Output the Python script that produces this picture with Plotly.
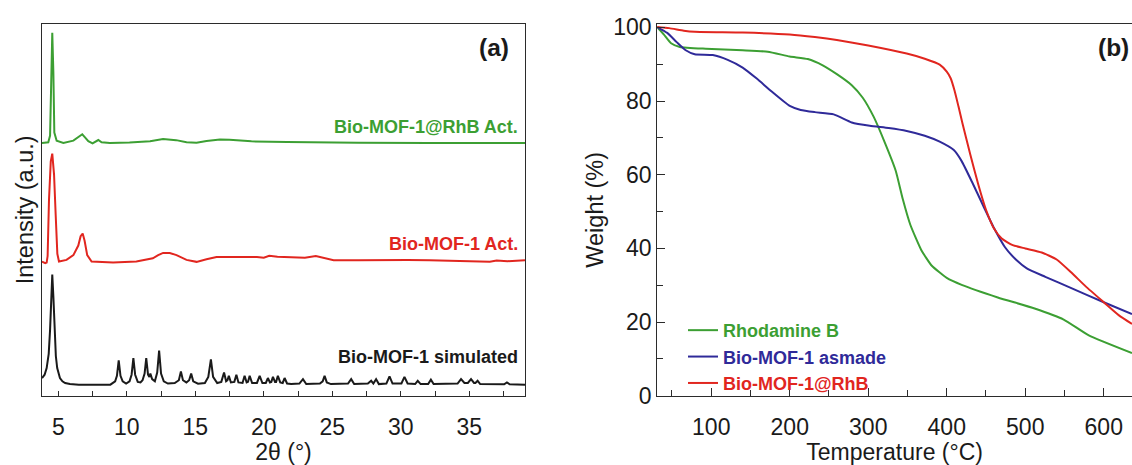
import plotly.graph_objects as go

# ---------------- (a) XRD patterns (normalised intensity, main reflection = 100) ----------------
sim_2theta = [3.81, 4.0, 4.15, 4.3, 4.4, 4.48, 4.56, 4.64, 4.72, 4.82, 4.92, 5.12, 5.3, 5.5, 5.85, 6.5, 8.8,
              8.95, 9.15, 9.28, 9.41, 9.54, 9.7, 9.95, 10.2, 10.35, 10.48, 10.61, 10.8, 11.0,
              11.15, 11.3, 11.42, 11.55, 11.65, 11.72, 11.85, 12.05, 12.22, 12.36, 12.5, 12.7, 13.0,
              13.5, 13.8, 13.95, 14.1, 14.35, 14.55, 14.7, 14.85, 15.2, 15.7, 15.95, 16.14, 16.3, 16.6,
              16.9, 17.1, 17.25, 17.35, 17.45, 17.6, 17.85, 18.0, 18.15, 18.45, 18.6, 18.75, 18.85, 18.97,
              19.15, 19.5, 19.7, 19.9, 20.15, 20.3, 20.45, 20.55, 20.67, 20.82, 20.9, 21.03, 21.2, 21.38,
              21.52, 21.7, 22.0, 22.6, 22.86, 23.1, 24.1, 24.3, 24.44, 24.6, 24.9, 26.15, 26.38, 26.6,
              27.6, 27.84, 28.0, 28.2, 28.4, 28.95, 29.18, 29.4, 30.05, 30.27, 30.5, 31.05, 31.24, 31.45,
              32.0, 32.2, 32.4, 34.15, 34.4, 34.65, 34.9, 35.13, 35.35, 35.45, 35.61, 35.8, 37.55, 37.75,
              37.95, 39.07]
sim_int = [6, 9, 15, 28, 50, 80, 100, 80, 50, 26, 15, 6, 3, 1.5, 0.5, 0, 0,
           1, 3, 8, 22, 8, 3, 1, 3, 9, 24, 9, 2.5, 2,
           4, 10, 24, 9, 7, 10, 5, 3, 11, 31, 10, 3, 1,
           1.5, 4, 12, 4, 2, 4, 10, 3, 0.8, 1.5, 7, 23, 7, 1.5,
           2.5, 11, 3, 4, 8, 2, 2.5, 9, 2, 1.5, 8, 2, 2.5, 8,
           1.5, 1.5, 8, 1.5, 1.5, 6, 2, 2.5, 7, 2.5, 2.5, 8, 2, 1.5,
           6, 1, 0.5, 1, 5, 0.5, 1, 3, 8, 2, 0.5, 1, 5, 0.5,
           1, 3.5, 1, 5, 0.5, 1, 7.5, 1, 1, 7, 1, 0.5, 3.5, 0.5,
           0.5, 4.5, 0.5, 1, 5, 1.5, 1.5, 5, 1.5, 1.5, 3.5, 0.5, 0.3, 2,
           0.3, 0]

act_2theta = [3.81, 4.05, 4.15, 4.22, 4.32, 4.45, 4.56, 4.69, 4.81, 4.93, 5.05, 5.6, 6.1, 6.46, 6.63,
              6.78, 6.92, 7.11, 7.43, 9.0, 10.7, 11.9, 12.29, 12.65, 13.14, 13.63, 14.36, 15.09,
              15.82, 16.55, 17.5, 19.5, 20.0, 20.4, 21.0, 21.7, 23.0, 23.8, 24.3, 25.1, 26.9, 29.5,
              30.0, 30.5, 32.1, 34.7, 36.5, 37.0, 37.8, 39.07]
act_int = [0, -1.5, -1, 5, 56, 91, 98, 79, 42, 7, 0, 1.5, 5.8, 14.5, 23,
           25.4, 18.8, 5.8, 0, -0.9, 0, 2.9, 5.8, 7.8, 7.8, 5.8, 1.5, -0.3,
           2, 4.1, 4.1, 4.2, 3.5, 5.2, 4.3, 4.2, 3.4, 5.0, 3.5, 1.2, 1.2, 1.6,
           2.0, 1.4, 1.2, 0.3, -0.2, 1.0, 0.3, 1.2]

rhb_2theta = [3.81, 4.27, 4.4, 4.49, 4.56, 4.64, 4.71, 4.88, 5.37, 6.1, 6.46, 6.75, 6.95, 7.19, 7.5,
              7.75, 7.92, 8.16, 8.77, 10.2, 11.7, 12.65, 13.6, 14.36, 15.09, 15.82, 16.8, 17.5,
              19.1, 21.7, 24.3, 26.9, 32.1, 39.07]
rhb_int = [0, 0.5, 6.7, 64, 100, 64, 9.3, 2, 0, 2, 5, 7.8, 5, 1.5, -0.5,
           1.5, 2.6, 0.5, 0, 0.3, 1.5, 3.5, 2.5, 0.5, 0.2, 1.7, 3, 2.8,
           1.4, 0.8, 0.3, 0.2, 0, 0]

# ---------------- (b) TGA curves ----------------
rhodamine_T = [31, 39.5, 48.8, 60, 93, 140, 172, 200, 223, 242, 260, 279, 293, 307, 321, 335, 344,
               353.5, 367.5, 381, 400, 419, 465, 512, 549, 581, 636]
rhodamine_W = [100.1, 98.1, 95.7, 94.7, 94.2, 93.8, 93.4, 92.1, 91.4, 89.7, 87.3, 84.3, 80.9, 75.7,
               68.8, 61.1, 53.4, 46.5, 39.6, 35.3, 32.0, 30.1, 26.7, 23.7, 20.7, 16.4, 11.6]

asmade_T = [31, 44, 56, 67.5, 79, 102, 121, 140, 158, 177, 200, 214, 232, 256, 279, 302, 326, 349,
            372, 391, 409, 419, 433, 446.5, 460, 474, 488, 502, 525.6, 558, 600, 636]
asmade_W = [100.1, 98.5, 96.0, 93.8, 92.7, 92.5, 91.2, 89.1, 86.1, 82.6, 78.7, 77.6, 77.0, 76.4,
            74.2, 73.3, 72.7, 71.9, 70.6, 69.0, 66.7, 63.7, 57.7, 51.6, 45.6, 40.4, 37.0, 34.6,
            32.3, 29.3, 25.4, 22.2]

loaded_T = [31, 46.5, 65, 79, 140, 200, 232, 260, 300, 349, 372, 391, 400, 405, 410, 415, 420, 430,
            440, 450, 460, 470, 484, 500, 521, 540, 558, 577, 600, 619, 636]
loaded_W = [100.1, 99.8, 99.1, 98.8, 98.6, 98.1, 97.4, 96.6, 95.1, 92.9, 91.5, 89.9, 88.0, 86.2,
            82.8, 78.5, 74.0, 65.5, 57.5, 50.5, 45.5, 42.7, 40.9, 40.0, 38.9, 37.0, 33.6, 29.7,
            25.4, 21.9, 19.5]

GREEN = "#3c9f33"
RED = "#e1261f"
BLUE = "#2f2a99"
BLACK = "#1a1a1a"
AXIS = "#2b2b2b"
FONT = "Liberation Sans, Arial, sans-serif"

# vertical stacking of the three diffractograms
stack = [(sim_2theta, sim_int, BLACK, 3.0),
         (act_2theta, act_int, RED, 36.1),
         (rhb_2theta, rhb_int, GREEN, 68.0)]
SCALE = 0.296

fig = go.Figure()
for x, y, c, off in stack:
    fig.add_trace(go.Scatter(x=x, y=[off + SCALE * v for v in y], mode="lines",
                             line=dict(color=c, width=2), showlegend=False,
                             xaxis="x", yaxis="y"))

tga = [("Rhodamine B", rhodamine_T, rhodamine_W, GREEN),
       ("Bio-MOF-1 asmade", asmade_T, asmade_W, BLUE),
       ("Bio-MOF-1@RhB", loaded_T, loaded_W, RED)]
for name, t, w, c in tga:
    fig.add_trace(go.Scatter(x=t, y=w, mode="lines",
                             name=f"<span style='color:{c}'><b>{name}</b></span>",
                             line=dict(color=c, width=2, shape="spline", smoothing=0.5),
                             xaxis="x2", yaxis="y2"))

W, H = 1132, 465
ydom = [(H - 406) / H, (H - 15.6) / H]

common = dict(showline=True, linecolor=AXIS, linewidth=1.3, showgrid=False, zeroline=False,
              tickcolor=AXIS, tickwidth=1.3, tickfont=dict(family=FONT, size=23, color="#1a1a1a"))

fig.update_layout(
    width=W, height=H, margin=dict(l=0, r=0, t=0, b=0),
    paper_bgcolor="white", plot_bgcolor="white",
    font=dict(family=FONT, color="#1a1a1a"),
    xaxis=dict(domain=[42 / W, 525 / W], range=[3.81, 39.07], anchor="y", mirror=True,
               tickmode="linear", tick0=0, dtick=5, ticks="inside", ticklen=5, ticklabelstandoff=10,
               minor=dict(dtick=2.5, tick0=0, ticks="inside", ticklen=5, tickwidth=1.3, tickcolor=AXIS),
               title=dict(text="2θ (°)", font=dict(family=FONT, size=23), standoff=4),
               **common),
    yaxis=dict(domain=ydom, range=[0, 100], anchor="x", mirror=True, ticks="",
               showticklabels=False,
               title=dict(text="Intensity (a.u.)", font=dict(family=FONT, size=23.5), standoff=0),
               **common),
    xaxis2=dict(domain=[657.3 / W, 1.0], range=[31.3, 636.0], anchor="y2", mirror=True,
                tickmode="linear", tick0=0, dtick=100, ticks="inside", ticklen=8, ticklabelstandoff=10,
                minor=dict(dtick=50, tick0=0, ticks="inside", ticklen=5.5, tickwidth=1.3, tickcolor=AXIS),
                title=dict(text="Temperature (°C)", font=dict(family=FONT, size=23), standoff=4),
                **common),
    yaxis2=dict(domain=ydom, range=[0, 100.96], anchor="x2", mirror=False,
                tickmode="linear", tick0=0, dtick=20, ticks="inside", ticklen=8,
                minor=dict(dtick=10, tick0=0, ticks="inside", ticklen=5.5, tickwidth=1.3, tickcolor=AXIS),
                title=dict(text="Weight (%)", font=dict(family=FONT, size=23.5), standoff=2),
                **common),
    legend=dict(x=683 / W, y=(H - 318) / H, xanchor="left", yanchor="top",
                bgcolor="rgba(0,0,0,0)", borderwidth=0,
                font=dict(family=FONT, size=18), tracegroupgap=0, itemwidth=30),
)

labels = [("<b>(a)</b>", 511, 40, BLACK, 24.5),
          ("<b>(b)</b>", 1131, 40, BLACK, 24.5),
          ("<b>Bio-MOF-1@RhB Act.</b>", 519.5, 124, GREEN, 18),
          ("<b>Bio-MOF-1 Act.</b>", 519.5, 246.5, RED, 18),
          ("<b>Bio-MOF-1 simulated</b>", 519.5, 365.5, BLACK, 18)]
for txt, px, py, c, fs in labels:
    fig.add_annotation(text=txt, x=px / W, y=(H - py) / H, xref="paper", yref="paper",
                       xanchor="right", yanchor="middle", showarrow=False,
                       font=dict(family=FONT, size=fs, color=c))

fig.write_html("out.html")
